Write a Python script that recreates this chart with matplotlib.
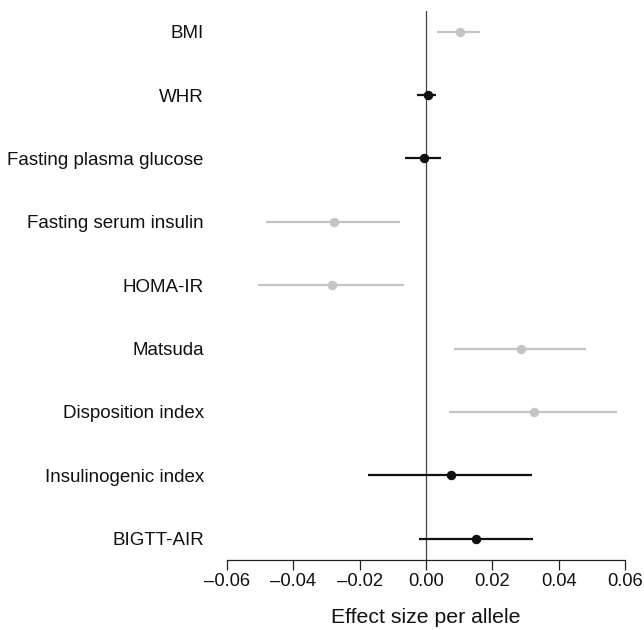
import matplotlib
matplotlib.use('Agg')
import matplotlib.pyplot as plt

traits = ['BMI', 'WHR', 'Fasting plasma glucose', 'Fasting serum insulin',
          'HOMA-IR', 'Matsuda', 'Disposition index', 'Insulinogenic index',
          'BIGTT-AIR']
effect = [0.0102, 0.0005, -0.0006, -0.0277, -0.0283, 0.0286, 0.0324, 0.0074, 0.0150]
ci_low = [0.0034, -0.0026, -0.0062, -0.0481, -0.0505, 0.0085, 0.0068, -0.0175, -0.0021]
ci_high = [0.0162, 0.0029, 0.0045, -0.0077, -0.0067, 0.0482, 0.0575, 0.0318, 0.0322]
ci_excludes_zero = [True, False, False, True, True, True, True, False, False]
xticks = [-0.06, -0.04, -0.02, 0.0, 0.02, 0.04, 0.06]

plt.rcParams['font.family'] = ['Liberation Sans', 'DejaVu Sans']

fig = plt.figure(figsize=(6.44, 6.30), dpi=100)
ax = fig.add_axes([0.352, 0.111, 0.619, 0.872])

n = len(traits)
ypos = list(range(n, 0, -1))

for y, e, lo, hi, sig in zip(ypos, effect, ci_low, ci_high, ci_excludes_zero):
     col = '#c4c4c4' if sig else '#111111'
     ax.plot([lo, hi], [y, y], color=col, linewidth=1.6, solid_capstyle='butt', zorder=2)
     ax.plot(e, y, marker='o', markersize=5.8, color=col, zorder=3)

ax.axvline(0, color='#444444', linewidth=0.9, zorder=1)

ax.set_xlim(-0.06, 0.06)
ax.set_ylim(0.664, n + 0.33)
ax.set_xticks(xticks)
ax.set_xticklabels(['\u20130.06', '\u20130.04', '\u20130.02', '0.00', '0.02', '0.04', '0.06'])
ax.set_yticks(ypos)
ax.set_yticklabels(traits)
ax.tick_params(axis='y', length=0, pad=16.5, labelsize=13.5, labelcolor='#111111')
ax.tick_params(axis='x', length=7, width=0.9, pad=2, labelsize=13.2,
               color='#222222', labelcolor='#111111')
for s in ['top', 'right', 'left']:
     ax.spines[s].set_visible(False)
ax.spines['bottom'].set_linewidth(0.9)
ax.spines['bottom'].set_color('#222222')
ax.set_xlabel('Effect size per allele', fontsize=15.3, color='#111111', labelpad=13.5)

fig.savefig('out.png', dpi=100)
